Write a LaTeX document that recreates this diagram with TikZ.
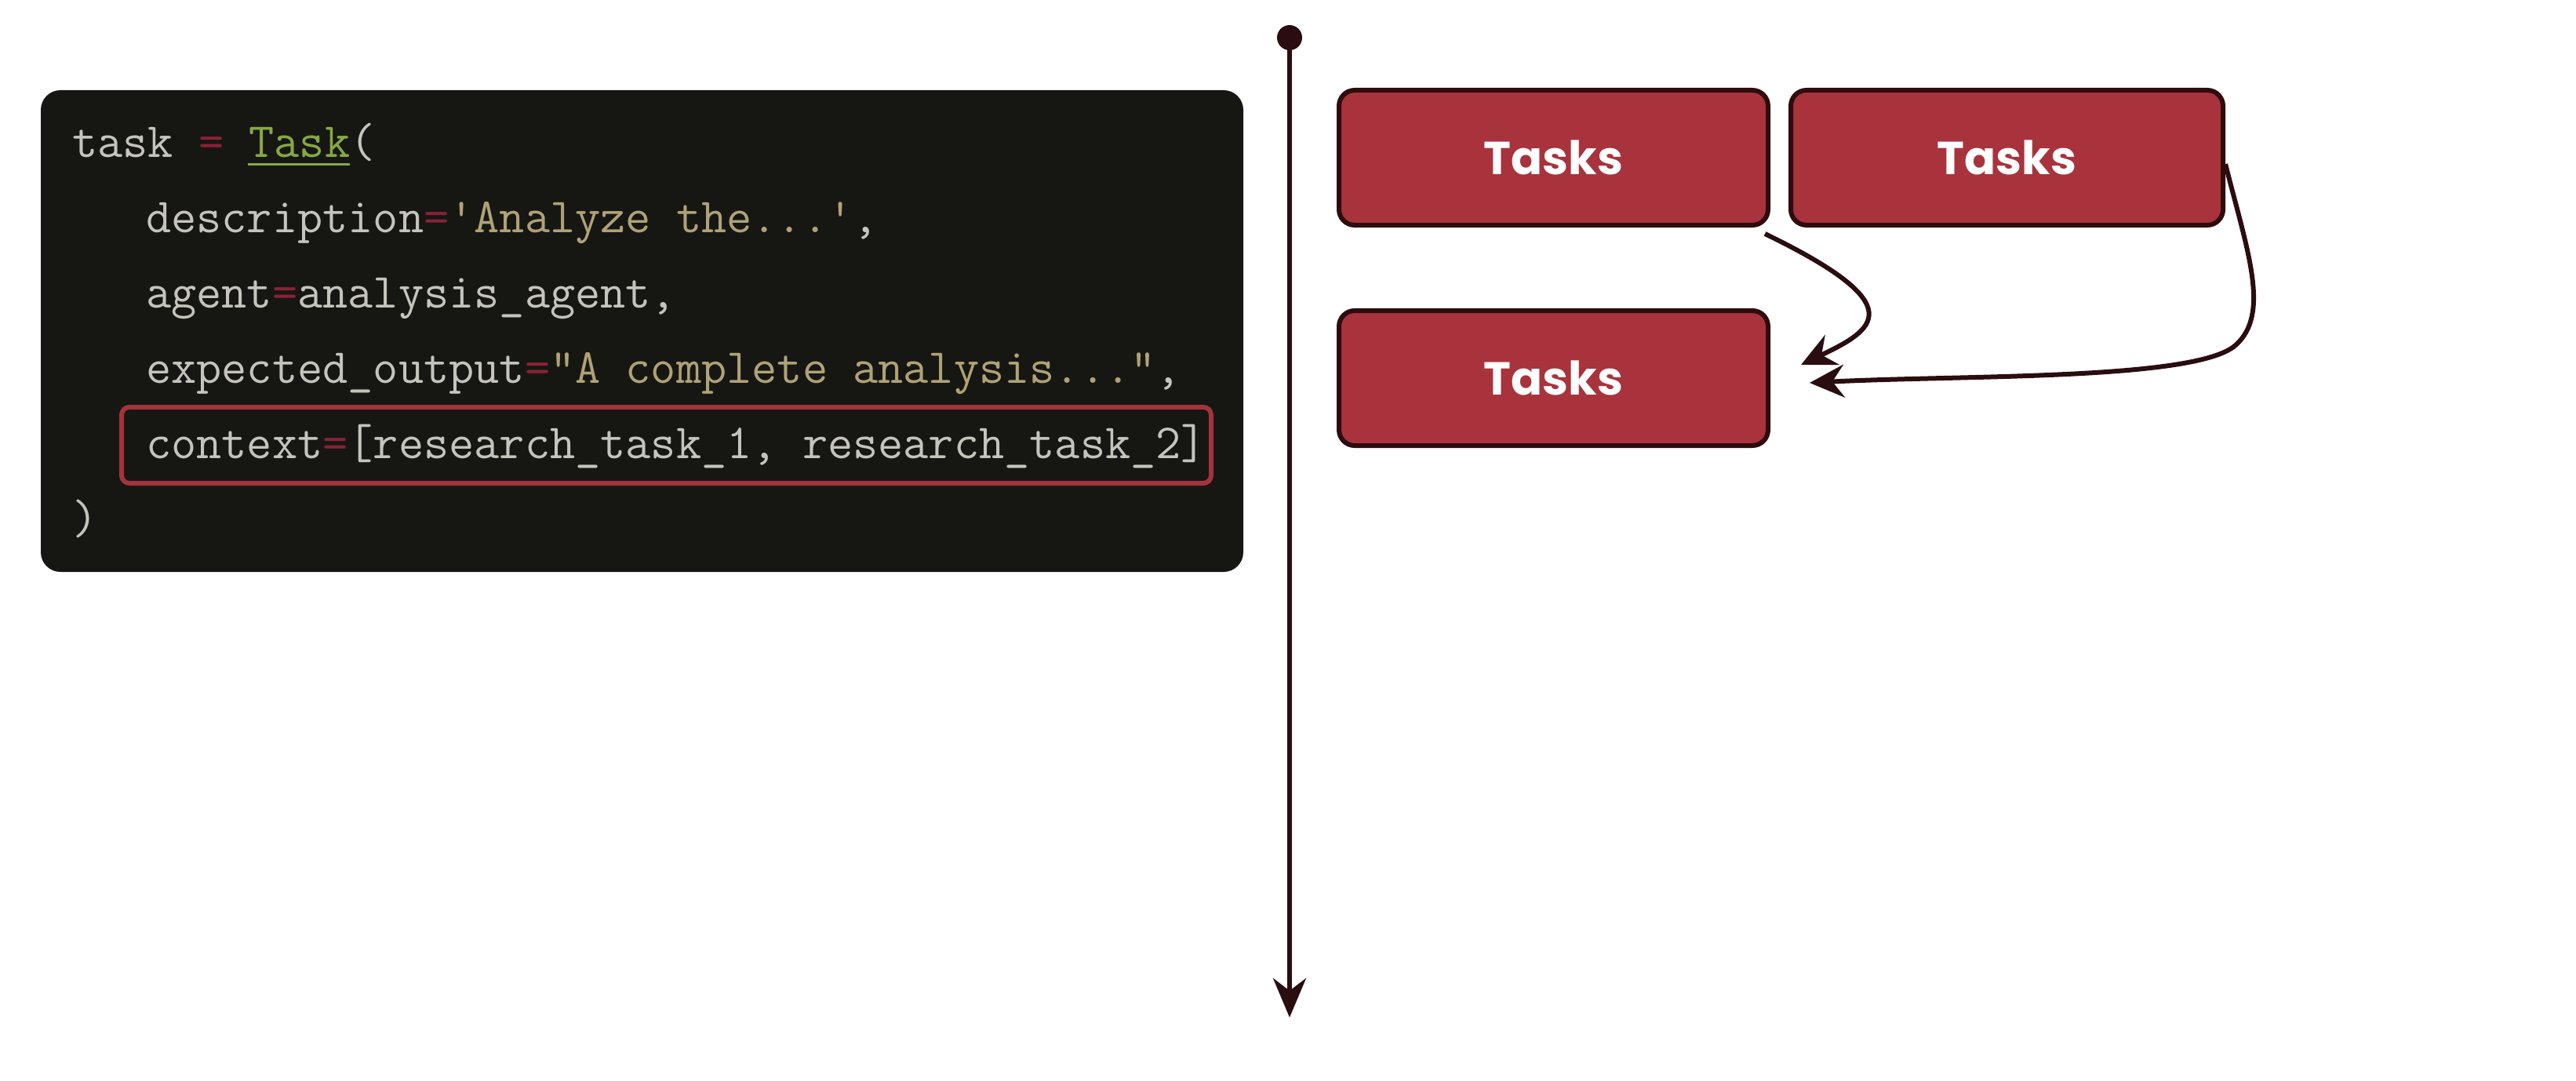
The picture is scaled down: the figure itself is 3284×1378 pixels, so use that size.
\documentclass[tikz,border=0pt]{standalone}
\usepackage{fontspec}
\newfontfamily\popp{Poppins}
\usetikzlibrary{arrows.meta,calc}
\definecolor{codebg}{HTML}{161713}
\definecolor{codefg}{HTML}{C4C4BC}
\definecolor{codestr}{HTML}{B0A276}
\definecolor{codeop}{HTML}{8A2236}
\definecolor{codecls}{HTML}{86A844}
\definecolor{taskred}{HTML}{A8333C}
\definecolor{taskedge}{HTML}{2E0C0E}
\definecolor{ink}{HTML}{2A0D10}
\definecolor{hl}{HTML}{A3333C}
\newcommand\cop[1]{\textcolor{codeop}{#1}}
\newcommand\cstr[1]{\textcolor{codestr}{#1}}
\begin{document}
\begin{tikzpicture}[x=1pt,y=-1pt,
  codebox/.style={fill=codebg, rounded corners=25pt, inner sep=0pt, minimum width=1533pt, minimum height=614pt},
  codeline/.style={anchor=base west, inner sep=0pt, text=codefg, font=\ttfamily\fontsize{62.5}{62.5}\selectfont},
  hlbox/.style={draw=hl, line width=6pt, rounded corners=10pt},
  taskbox/.style={draw=taskedge, line width=6pt, fill=taskred, rounded corners=20pt, minimum height=172pt, text=white, font=\popp\bfseries\fontsize{59}{59}\selectfont},
  conn/.style={draw=ink, line width=6pt, -{Stealth[length=44pt,width=42pt,inset=15pt]}},
  axis/.style={draw=ink, line width=6pt, -{Stealth[length=50pt,width=42pt,inset=16pt]}}]
\fill[white] (0,0) rectangle (3284,1378);
\useasboundingbox (0,0) rectangle (3284,1378);

% code block
\node[codebox] (code) at (818.5,422) {};
\node[codeline] (l1) at (92,200) {task \cop{=} \textcolor{codecls}{Task}(};
\draw[codecls, line width=3pt] (316,209) -- (446,209);
\node[codeline] (l2) at (186,296) {description\cop{=}\cstr{'Analyze the...'},};
\node[codeline] (l3) at (186,392) {agent\cop{=}analysis\_agent,};
\node[codeline] (l4) at (186,488) {expected\_output\cop{=}\cstr{"A complete analysis..."},};
\node[codeline] (l5) at (186,584) {context\cop{=}[research\_task\_1, research\_task\_2]};
\node[codeline] (l6) at (92,680) {)};
\draw[hlbox] (155,519) rectangle (1544,616);

% timeline
\coordinate (top) at (1644,48);
\coordinate (bot) at (1644,1297);
\fill[ink] (top) circle (16);
\draw[axis] (top) -- (bot);

% tasks
\node[taskbox, minimum width=547pt] (A) at (1980.5,201) {Tasks};
\node[taskbox, minimum width=551pt] (B) at (2558.5,201) {Tasks};
\node[taskbox, minimum width=547pt] (C) at (1980.5,482) {Tasks};

\draw[conn] ($(A.south east)+(-7,8)$) .. controls (2440,390) and (2390,420) .. ($(C.east)+(39,-17)$);
\draw[conn] ($(B.east)+(0,8)$) .. controls (2865,320) and (2895,400) .. (2850,440)
  .. controls (2800,485) and (2500,478) .. ($(C.east)+(50,6)$);
\end{tikzpicture}
\end{document}
